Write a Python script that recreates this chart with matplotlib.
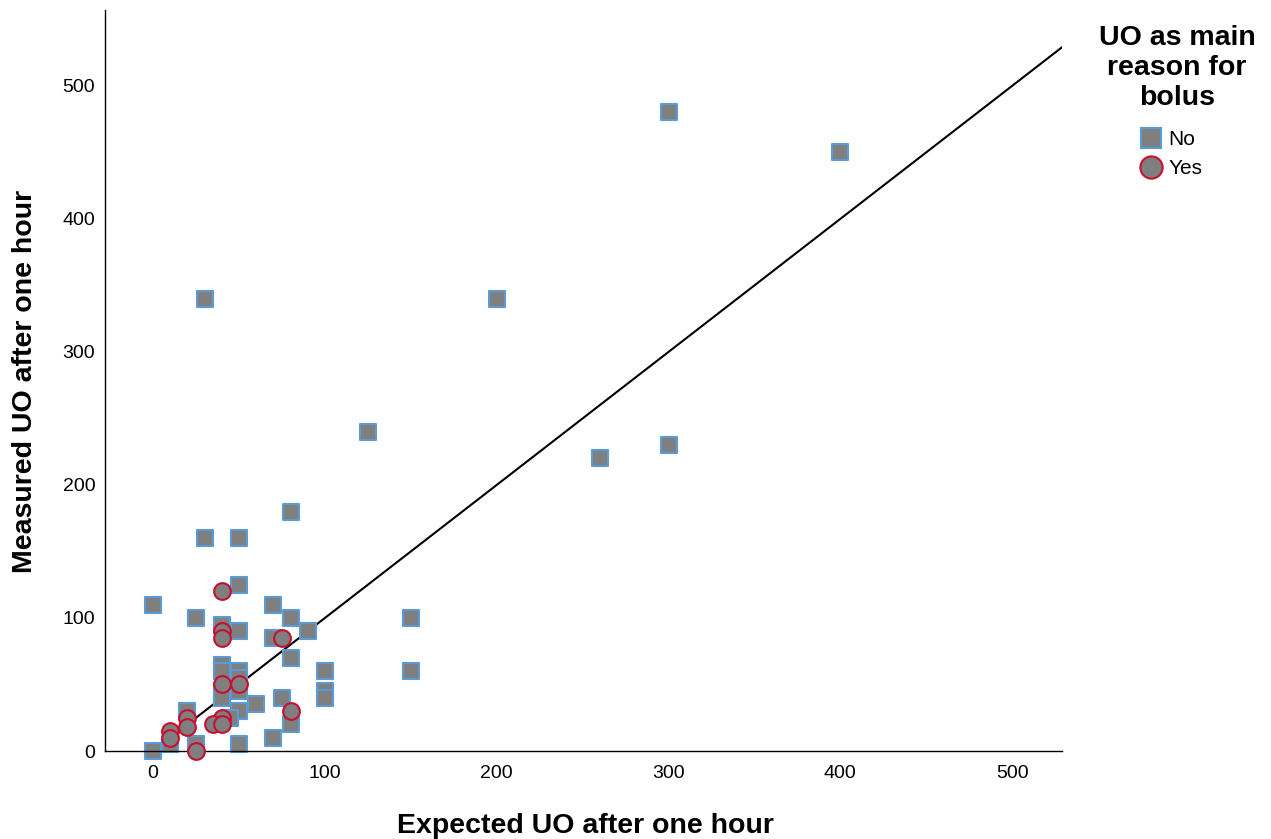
import matplotlib
matplotlib.use("Agg")
import matplotlib.pyplot as plt
from matplotlib.lines import Line2D

plt.rcParams['font.family'] = ['Liberation Sans', 'DejaVu Sans']

# Data: expected vs measured urine output (UO)
no_x = [300, 400, 30, 200, 125, 260, 300, 80, 30, 50, 50, 0, 70, 25, 80, 150,
        40, 50, 70, 90, 80, 40, 40, 50, 50, 100, 150, 100, 100, 60, 75, 40, 40,
        50, 50, 45, 80, 70, 50, 0, 20, 25, 10]
no_y = [480, 450, 340, 340, 240, 220, 230, 180, 160, 160, 125, 110, 110, 100, 100, 100,
        95, 90, 85, 90, 70, 65, 60, 60, 55, 60, 60, 45, 40, 35, 40, 45, 40,
        45, 30, 25, 20, 10, 5, 0, 30, 5, 5]
yes_x = [40, 40, 40, 75, 40, 50, 80, 40, 35, 40, 20, 20, 10, 10, 25]
yes_y = [120, 90, 85, 85, 50, 50, 30, 25, 20, 20, 25, 18, 15, 10, 0]

x_ticks = [0, 100, 200, 300, 400, 500]
y_ticks = [0, 100, 200, 300, 400, 500]

W, H = 1271, 839
fig = plt.figure(figsize=(W / 100, H / 100), dpi=100)
ax = fig.add_axes([105 / W, 1 - 751 / H, (1062 - 105) / W, (751 - 10) / H])

sq_face = '#7f7f7f'
sq_edge = '#5b9bd5'
ci_edge = '#c8102e'

ax.plot([0, 529], [0, 529], color='black', lw=1.5, zorder=1)
ax.scatter(no_x, no_y, marker='s', s=135, facecolor=sq_face, edgecolor=sq_edge,
           linewidth=1.5, zorder=2, clip_on=False)
ax.scatter(yes_x, yes_y, marker='o', s=145, facecolor=sq_face, edgecolor=ci_edge,
           linewidth=1.5, zorder=3, clip_on=False)

ax.set_xlim(-28, 529)
ax.set_ylim(0, 557)
ax.set_xticks(x_ticks)
ax.set_yticks(y_ticks)
ax.tick_params(length=0, labelsize=14)
ax.tick_params(axis='x', pad=10)
ax.tick_params(axis='y', pad=7)
for s in ['top', 'right']:
    ax.spines[s].set_visible(False)
ax.spines['left'].set_linewidth(1.0)
ax.spines['bottom'].set_linewidth(1.0)

fig.text(585 / W, 1 - 826 / H, 'Expected UO after one hour', fontsize=20.5,
         fontweight='bold', ha='center', va='center')
fig.text(25 / W, 1 - 381 / H, 'Measured UO after one hour', fontsize=20.5,
         fontweight='bold', ha='center', va='center', rotation=90)

fig.text(1177 / W, 1 - 68 / H, 'UO as main\nreason for\nbolus', fontsize=20.5,
         fontweight='bold', ha='center', va='center', linespacing=1.2,
         multialignment='center')

handles = [
    Line2D([], [], marker='s', linestyle='', markersize=15, markerfacecolor=sq_face,
           markeredgecolor=sq_edge, markeredgewidth=1.5, label='No'),
    Line2D([], [], marker='o', linestyle='', markersize=16, markerfacecolor=sq_face,
           markeredgecolor=ci_edge, markeredgewidth=1.5, label='Yes'),
]
fig.legend(handles=handles, loc='center left',
           bbox_to_anchor=(1141 / W, 1 - 154 / H),
           frameon=False, fontsize=15, handletextpad=0.3, labelspacing=0.5,
           handlelength=1.0, borderpad=0, borderaxespad=0)

fig.savefig('out.png', dpi=100)
